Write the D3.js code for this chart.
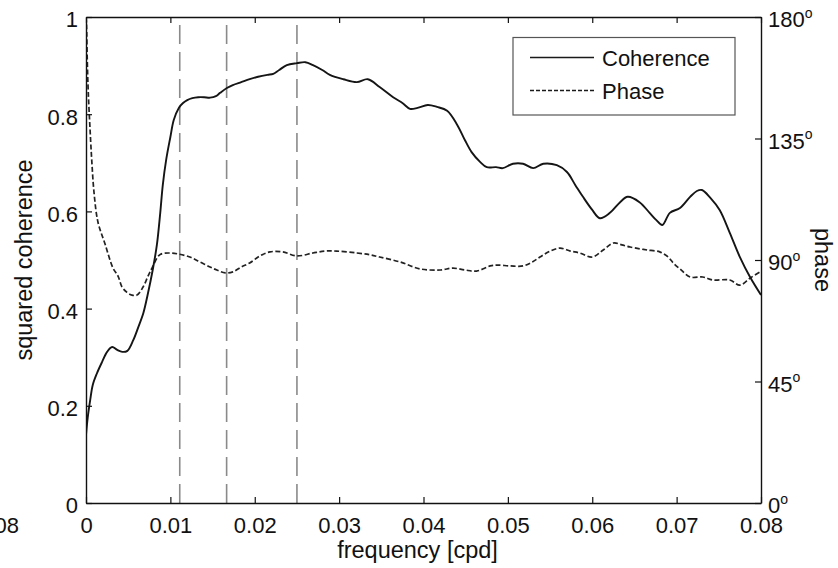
<!DOCTYPE html>
<html>
<head>
<meta charset="utf-8">
<script src="https://cdn.jsdelivr.net/npm/d3@7"></script>
<style>
  html, body { margin: 0; padding: 0; background: #fff; }
  svg { display: block; }
  text { font-family: "Liberation Sans", Arial, Helvetica, sans-serif; fill: #111; }
</style>
</head>
<body>
<svg id="chart" width="838" height="568"></svg>
<script>
// ---- data ----
const cohFreq = [0.0000,0.0002,0.0005,0.0008,0.0013,0.0019,0.0025,0.0031,0.0037,0.0043,0.0049,0.0056,0.0062,0.0068,0.0073,0.0079,0.0084,0.0088,0.0091,0.0095,0.0100,0.0104,0.0110,0.0115,0.0120,0.0126,0.0133,0.0140,0.0147,0.0154,0.0159,0.0167,0.0174,0.0184,0.0194,0.0204,0.0215,0.0222,0.0229,0.0238,0.0250,0.0260,0.0269,0.0280,0.0289,0.0305,0.0321,0.0334,0.0348,0.0364,0.0375,0.0384,0.0393,0.0405,0.0416,0.0428,0.0440,0.0449,0.0457,0.0467,0.0475,0.0486,0.0494,0.0506,0.0518,0.0530,0.0542,0.0558,0.0570,0.0580,0.0589,0.0600,0.0609,0.0621,0.0633,0.0642,0.0656,0.0668,0.0676,0.0683,0.0692,0.0704,0.0716,0.0724,0.0730,0.0740,0.0751,0.0763,0.0775,0.0787,0.0800];
const cohValues = [0.140,0.175,0.212,0.243,0.267,0.290,0.311,0.321,0.315,0.311,0.313,0.335,0.362,0.391,0.428,0.479,0.531,0.597,0.654,0.706,0.753,0.788,0.813,0.823,0.829,0.833,0.835,0.835,0.834,0.837,0.844,0.854,0.860,0.866,0.872,0.877,0.881,0.883,0.891,0.901,0.905,0.907,0.901,0.891,0.881,0.872,0.866,0.872,0.856,0.835,0.823,0.811,0.813,0.819,0.815,0.807,0.778,0.747,0.722,0.702,0.691,0.691,0.689,0.698,0.698,0.689,0.698,0.695,0.681,0.654,0.630,0.603,0.586,0.597,0.619,0.630,0.619,0.597,0.582,0.572,0.597,0.607,0.630,0.642,0.644,0.628,0.603,0.556,0.506,0.465,0.428];

const phaseFreq = [0.0000,0.00006,0.00015,0.00027,0.00047,0.00068,0.00095,0.00142,0.00225,0.0032,0.0038,0.00427,0.00486,0.00545,0.00604,0.00676,0.00735,0.00782,0.00877,0.00996,0.0110,0.0123,0.0135,0.0147,0.0155,0.0165,0.0174,0.0184,0.0194,0.0206,0.0218,0.0233,0.0250,0.0269,0.0283,0.0297,0.0321,0.0337,0.0348,0.0372,0.0396,0.0420,0.0435,0.0449,0.0463,0.0479,0.0487,0.0503,0.0518,0.0529,0.0538,0.0550,0.0562,0.0574,0.0585,0.0600,0.0613,0.0625,0.0635,0.0645,0.0657,0.0665,0.0680,0.0690,0.0696,0.0704,0.0716,0.0731,0.0743,0.0763,0.0775,0.0787,0.0799];
const phaseValues = [180,177,164,152,139,127,115,104,96,87,84,80,78,77,77,80,84,87,92,92.6,92.2,91.1,89.3,87.4,86.3,85.2,85.6,87.4,88.9,91.5,93,93,91.5,92.6,93.3,93.3,92.6,91.9,91.1,89.3,86.7,86.3,87,86.3,85.9,87.8,88.1,87.8,87.8,89.3,91.1,93.3,94.4,93.3,92.6,91.1,93.7,96.3,95.6,94.8,94.1,93.7,93,91.1,88.9,86.7,83.7,83.7,82.6,82.6,80.7,83.3,85.6];

const periodMarkers = [1/90, 1/60, 1/40];   // frequencies of the vertical dashed lines
const xTicks = [0,0.01,0.02,0.03,0.04,0.05,0.06,0.07,0.08];
const yTicks = [0,0.2,0.4,0.6,0.8,1];
const phaseTicks = [0,45,90,135,180];
const legendLabels = ["Coherence","Phase"];

// ---- layout ----
const svg = d3.select("#chart");
const L = 86, R = 761, T = 17, B = 503;
const FS = 22;     // tick labels / legend
const FT = 23.5;   // axis titles

const x = d3.scaleLinear().domain([0,0.08]).range([L,R]);
const y = d3.scaleLinear().domain([0,1]).range([B,T]);
const yp = d3.scaleLinear().domain([0,180]).range([B,T]);

// clip
svg.append("defs").append("clipPath").attr("id","clip")
  .append("rect").attr("x",L).attr("y",T).attr("width",R-L).attr("height",B-T);

// vertical dashed markers
svg.append("g").selectAll("line").data(periodMarkers).join("line")
  .attr("x1",d=>x(d)).attr("x2",d=>x(d)).attr("y1",B).attr("y2",T)
  .attr("stroke","#8a8a8a").attr("stroke-width",1.6)
  .attr("stroke-dasharray","19,8");

// lines
const cohData = cohFreq.map((f,i)=>[f,cohValues[i]]);
const phData = phaseFreq.map((f,i)=>[f,phaseValues[i]]);

const lineC = d3.line().x(d=>x(d[0])).y(d=>y(d[1])).curve(d3.curveCatmullRom.alpha(0.5));
const lineP = d3.line().x(d=>x(d[0])).y(d=>yp(d[1])).curve(d3.curveCatmullRom.alpha(0.5));

const plot = svg.append("g").attr("clip-path","url(#clip)");
plot.append("path").datum(phData).attr("d",lineP)
  .attr("fill","none").attr("stroke","#222").attr("stroke-width",1.7)
  .attr("stroke-dasharray","5,2.5");
plot.append("path").datum(cohData).attr("d",lineC)
  .attr("fill","none").attr("stroke","#151515").attr("stroke-width",1.9);

// axes
function styleAxis(g){
  g.selectAll(".domain").attr("stroke","#111").attr("stroke-width",1.4);
  g.selectAll(".tick line").attr("stroke","#111").attr("stroke-width",1.2);
  g.selectAll("text").attr("font-size",FS).attr("font-family",null).attr("fill","#111");
}
const xFmt = d => d===0 ? "0" : d.toFixed(2);
const yFmt = d => d===0 ? "0" : (d===1 ? "1" : d.toFixed(1));

const gx = svg.append("g").attr("transform",`translate(0,${B})`)
  .call(d3.axisBottom(x).tickValues(xTicks).tickFormat(xFmt).tickSizeInner(-6).tickSizeOuter(0).tickPadding(14));
styleAxis(gx);
gx.selectAll("text").attr("dy","0.71em");

const gxt = svg.append("g").attr("transform",`translate(0,${T})`)
  .call(d3.axisTop(x).tickValues(xTicks).tickFormat("").tickSizeInner(-6).tickSizeOuter(0));
styleAxis(gxt);

const gy = svg.append("g").attr("transform",`translate(${L},0)`)
  .call(d3.axisLeft(y).tickValues(yTicks).tickFormat(yFmt).tickSizeInner(-6).tickSizeOuter(0).tickPadding(8));
styleAxis(gy);
gy.selectAll("text").attr("dy","0.45em");

const gyr = svg.append("g").attr("transform",`translate(${R},0)`)
  .call(d3.axisRight(yp).tickValues(phaseTicks).tickFormat("").tickSizeInner(-6).tickSizeOuter(0).tickPadding(7));
styleAxis(gyr);
gyr.selectAll(".tick").each(function(d){
  const t = d3.select(this).append("text")
    .attr("x",7).attr("y",0).attr("dy","0.45em")
    .attr("font-size",FS).attr("fill","#111").attr("text-anchor","start");
  t.append("tspan").text(d);
  t.append("tspan").attr("font-size",14).attr("dy",-9.5).text("o");
});

// stray clipped label at far left
svg.append("text").attr("x",19).attr("y",532.5).attr("text-anchor","end")
  .attr("font-size",FS).text("0.08");

// axis titles
svg.append("text").attr("x",(L+R)/2 - 6).attr("y",558).attr("text-anchor","middle")
  .attr("font-size",FT).text("frequency [cpd]");
svg.append("text").attr("transform",`translate(32,${(T+B)/2}) rotate(-90)`)
  .attr("text-anchor","middle").attr("font-size",FT).text("squared coherence");
svg.append("text").attr("transform",`translate(815,${(T+B)/2}) rotate(90)`)
  .attr("text-anchor","middle").attr("font-size",FT).text("phase");

// legend
const lg = svg.append("g");
lg.append("rect").attr("x",513).attr("y",37.5).attr("width",222).attr("height",77.5)
  .attr("fill","#fff").attr("stroke","#555").attr("stroke-width",1.2);
const legendRows = [{y:57.5, dash:null},{y:90.5, dash:"4,2"}];
legendRows.forEach((r,i)=>{
  lg.append("line").attr("x1",530).attr("x2",594).attr("y1",r.y).attr("y2",r.y)
    .attr("stroke","#1a1a1a").attr("stroke-width",1.6)
    .attr("stroke-dasharray",r.dash);
  lg.append("text").attr("x",602).attr("y",r.y+8).attr("font-size",FS).text(legendLabels[i]);
});
</script>
</body>
</html>
